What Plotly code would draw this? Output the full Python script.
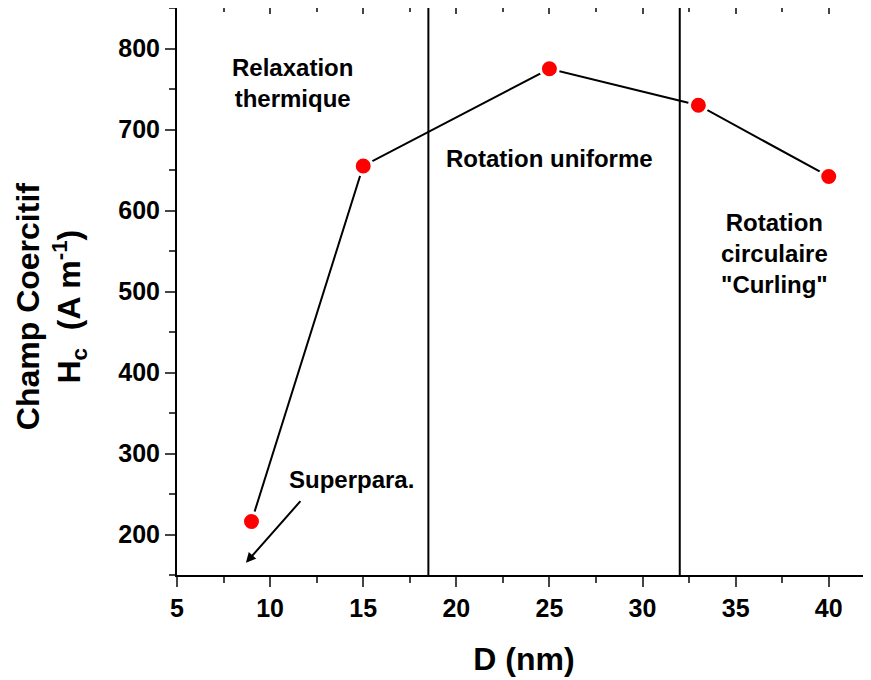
import plotly.graph_objects as go

# Data
diameter_nm = [9, 15, 25, 33, 40]
coercive_field = [216, 655, 775, 730, 642]
regime_boundaries = [18.5, 32]
x_ticks = [5, 10, 15, 20, 25, 30, 35, 40]
y_ticks = [200, 300, 400, 500, 600, 700, 800]

FONT = "Liberation Sans, Arial, sans-serif"

fig = go.Figure()
fig.add_trace(go.Scatter(
    x=diameter_nm, y=coercive_field, mode="lines+markers",
    line=dict(color="black", width=2),
    marker=dict(color="#ff0000", size=18, line=dict(color="white", width=3)),
    showlegend=False, hoverinfo="x+y"))
# invisible trace for the top axis
fig.add_trace(go.Scatter(x=[diameter_nm[0]], y=[coercive_field[0]], xaxis="x2",
                         mode="markers", marker=dict(opacity=0), showlegend=False,
                         hoverinfo="skip"))

for b in regime_boundaries:
    fig.add_shape(type="line", x0=b, x1=b, y0=0, y1=1, xref="x", yref="paper",
                  line=dict(color="black", width=2))

ann_font = dict(family=FONT, size=24, color="black")
annotations = [
    dict(x=11.2, y=757, text="<b>Relaxation<br>thermique</b>"),
    dict(x=25.0, y=664, text="<b>Rotation uniforme</b>"),
    dict(x=37.1, y=547, text="<b>Rotation<br>circulaire<br>\"Curling\"</b>"),
]
for a in annotations:
    fig.add_annotation(x=a["x"], y=a["y"], text=a["text"], showarrow=False,
                       xref="x", yref="y", font=ann_font, align="center")

fig.add_annotation(x=8.7, y=165, ax=11.7, ay=243, axref="x", ayref="y",
                   xref="x", yref="y", text="", showarrow=True,
                   arrowhead=2, arrowsize=1, arrowwidth=2, arrowcolor="black")
fig.add_annotation(x=14.35, y=268, text="<b>Superpara.</b>", showarrow=False,
                   xref="x", yref="y", font=ann_font)

fig.add_annotation(x=-0.1816, y=0.474, xref="paper", yref="paper", textangle=-90,
                   xanchor="center", yanchor="middle",
                   text="<b>Champ Coercitif<br>H<sub>c</sub>  (A m<sup>-1</sup>)</b>",
                   showarrow=False, font=dict(family=FONT, size=32, color="black"),
                   align="center")

tick_font = dict(family=FONT, size=25, color="black", weight="bold")

fig.update_layout(
    width=863, height=672,
    margin=dict(l=169, r=0, t=0, b=105, autoexpand=False),
    paper_bgcolor="white", plot_bgcolor="white",
    font=dict(family=FONT, color="black"),
    xaxis=dict(range=[5, 42.27], tickvals=x_ticks, ticks="outside", ticklen=10,
               tickwidth=2, showline=True, linecolor="black", linewidth=2,
               showgrid=False, zeroline=False, automargin=False,
               tickfont=tick_font,
               minor=dict(dtick=2.5, ticks="outside", ticklen=6, tickwidth=2,
                          showgrid=False),
               title=dict(text="<b>D (nm)</b>", font=dict(family=FONT, size=32),
                          standoff=27)),
    xaxis2=dict(range=[5, 42.27], overlaying="x", side="top", tickvals=x_ticks,
                ticks="inside", ticklen=6, tickwidth=2, showticklabels=False,
                showline=True, linecolor="black", linewidth=2, showgrid=False,
                zeroline=False, automargin=False,
                minor=dict(dtick=2.5, ticks="inside", ticklen=4, tickwidth=2,
                           showgrid=False)),
    yaxis=dict(range=[150, 850], tickvals=y_ticks, ticks="outside", ticklen=10,
               tickwidth=2, showline=True, linecolor="black", linewidth=2,
               showgrid=False, zeroline=False, automargin=False,
               tickfont=tick_font,
               minor=dict(dtick=50, ticks="outside", ticklen=6, tickwidth=2,
                          showgrid=False)),
)

fig.write_html("out.html")
